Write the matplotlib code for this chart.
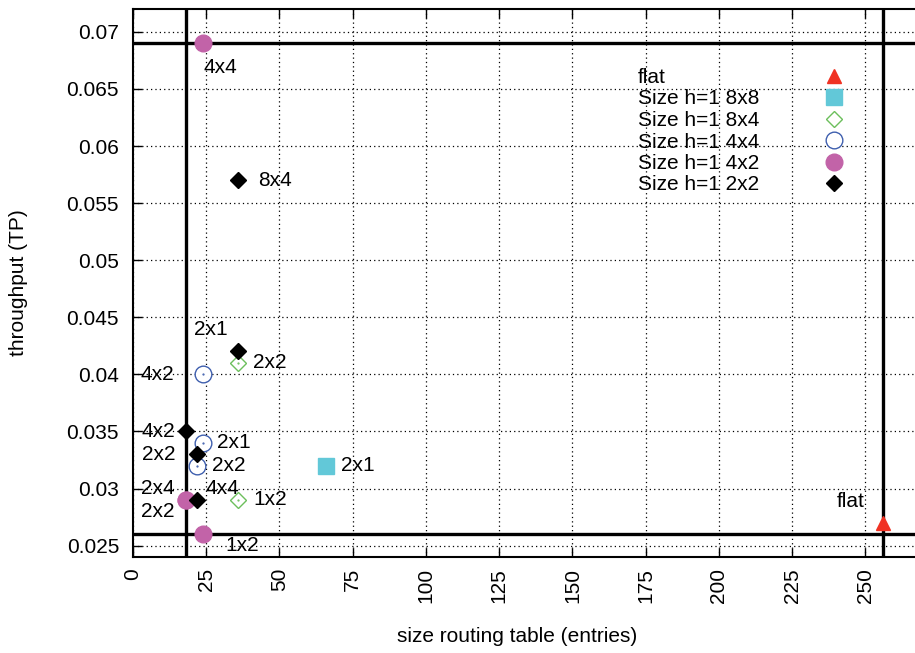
import matplotlib
matplotlib.use("Agg")
import matplotlib.pyplot as plt

plt.rcParams['font.family'] = ['Liberation Sans', 'DejaVu Sans']

# ---------------- data ----------------
flat_x = [256]
flat_y = [0.027]
flat_lab = ['flat']

s88_x = [66]
s88_y = [0.032]
s88_lab = ['2x1']

s84_x = [36, 36]
s84_y = [0.041, 0.029]
s84_lab = ['2x2', '1x2']

s44_x = [24, 24, 22]
s44_y = [0.040, 0.034, 0.032]
s44_lab = ['4x2', '2x1', '2x2']

s42_x = [24, 18, 18, 24]
s42_y = [0.069, 0.029, 0.029, 0.026]
s42_lab = ['4x4', '2x4', '2x2', '1x2']

s22_x = [36, 36, 18, 22, 22]
s22_y = [0.057, 0.042, 0.035, 0.033, 0.029]
s22_lab = ['8x4', '2x1', '4x2', '2x2', '4x4']

ref_x = [18, 256]
ref_y = [0.026, 0.069]

x_ticks = [0, 25, 50, 75, 100, 125, 150, 175, 200, 225, 250]
y_ticks = [0.025, 0.03, 0.035, 0.04, 0.045, 0.05, 0.055, 0.06, 0.065, 0.07]
y_ticklabels = ['0.025', '0.03', '0.035', '0.04', '0.045', '0.05', '0.055',
                '0.06', '0.065', '0.07']

# label offsets (pixels) and alignment - style only
flat_off = [(-18, 21, 'right')]
s88_off = [(15, 0, 'left')]
s84_off = [(15, 0, 'left'), (15, 0, 'left')]
s44_off = [(-29, 0, 'right'), (14, 0, 'left'), (15, 0, 'left')]
s42_off = [(0, -24, 'left'), (-11, 11, 'right'), (-11, -12, 'right'), (22, -11, 'left')]
s22_off = [(20, 0, 'left'), (-28, 22, 'center'), (-11, 0, 'right'), (-22, 0, 'right'),
           (8, 11, 'left')]

FS = 15

fig = plt.figure(figsize=(9.15, 6.53), dpi=100)
W, H = 915, 653
L, B, R, T = 133, 557, 924, 9
ax = fig.add_axes([L / W, (H - B) / H, (R - L) / W, (B - T) / H])

ax.set_xlim(0, 270)
ax.set_ylim(0.024, 0.072)

# grid
ax.set_xticks(x_ticks)
ax.set_yticks(y_ticks)
ax.set_yticklabels(y_ticklabels)
ax.set_xticklabels([str(v) for v in x_ticks], rotation=90, va='top', ha='center')
ax.grid(True, linestyle=(0, (1, 2.5)), color='black', linewidth=0.9)
ax.set_axisbelow(True)
ax.tick_params(direction='in', top=True, right=True, length=6.5, width=1,
               labelsize=FS)
ax.tick_params(axis='y', pad=10)
ax.tick_params(axis='x', pad=8)
for s in ax.spines.values():
    s.set_linewidth(1.5)

# reference lines
for xv in ref_x:
    ax.axvline(xv, color='black', linewidth=2.4, zorder=2)
for yv in ref_y:
    ax.axhline(yv, color='black', linewidth=2.4, zorder=2)

# series
ax.plot(flat_x, flat_y, linestyle='none', marker='^', markersize=10.5,
        color='#f03223', label='flat', zorder=3)
ax.plot(s88_x, s88_y, linestyle='none', marker='s', markersize=11.5,
        color='#62c8d8', label='Size h=1 8x8', zorder=3)
ax.plot(s84_x, s84_y, linestyle='none', marker='D', markersize=8.5,
        markerfacecolor='white', markeredgecolor='#6cbf5c', markeredgewidth=1.0,
        label='Size h=1 8x4', zorder=3)
ax.plot(s84_x, s84_y, linestyle='none', marker='.', markersize=1.2,
        color='#6cbf5c', zorder=3)
ax.plot(s44_x, s44_y, linestyle='none', marker='o', markersize=12,
        markerfacecolor='white', markeredgecolor='#3f5fae', markeredgewidth=1.0,
        label='Size h=1 4x4', zorder=3)
ax.plot(s44_x, s44_y, linestyle='none', marker='.', markersize=1.2,
        color='#3f5fae', zorder=3)
ax.plot(s42_x, s42_y, linestyle='none', marker='o', markersize=12,
        color='#c263a8', label='Size h=1 4x2', zorder=3)
ax.plot(s22_x, s22_y, linestyle='none', marker='D', markersize=8.5,
        color='black', label='Size h=1 2x2', zorder=4)

# point labels
for xs, ys, labs, offs in [(flat_x, flat_y, flat_lab, flat_off),
                           (s88_x, s88_y, s88_lab, s88_off),
                           (s84_x, s84_y, s84_lab, s84_off),
                           (s44_x, s44_y, s44_lab, s44_off),
                           (s42_x, s42_y, s42_lab, s42_off),
                           (s22_x, s22_y, s22_lab, s22_off)]:
    for xv, yv, lab, (dx, dy, ha) in zip(xs, ys, labs, offs):
        ax.annotate(lab, (xv, yv), xytext=(dx, dy), textcoords='offset pixels',
                    ha=ha, va='center', fontsize=FS, zorder=5)

ax.set_ylabel('throughput (TP)', fontsize=FS)
ax.set_xlabel('size routing table (entries)', fontsize=FS)
ax.yaxis.set_label_coords((18 - L) / (R - L), 0.5)
ax.xaxis.set_label_coords((517 - L) / (R - L), (B - 636) / (B - T))
ax.xaxis.label.set_va('center')
ax.yaxis.label.set_va('center')

leg = ax.legend(loc='upper left',
                bbox_to_anchor=((638 - L) / (R - L), (B - 68) / (B - T)),
                frameon=False, fontsize=FS, markerfirst=False, borderpad=0,
                labelspacing=0.12, handlelength=2.0, handletextpad=2.6,
                borderaxespad=0, numpoints=1)

# left-align legend texts while keeping markers in a column
fig.canvas.draw()
r = fig.canvas.get_renderer()
p2px = r.points_to_pixels(1.0)
for col in leg._legend_handle_box.get_children():
    rows = col.get_children()
    widths = [row.get_children()[0].get_bbox(r).width for row in rows]
    mw = max(widths)
    col.align = 'left'
    for row, w in zip(rows, widths):
        row.sep = row.sep + (mw - w) / p2px

fig.savefig('out.png', dpi=100)
